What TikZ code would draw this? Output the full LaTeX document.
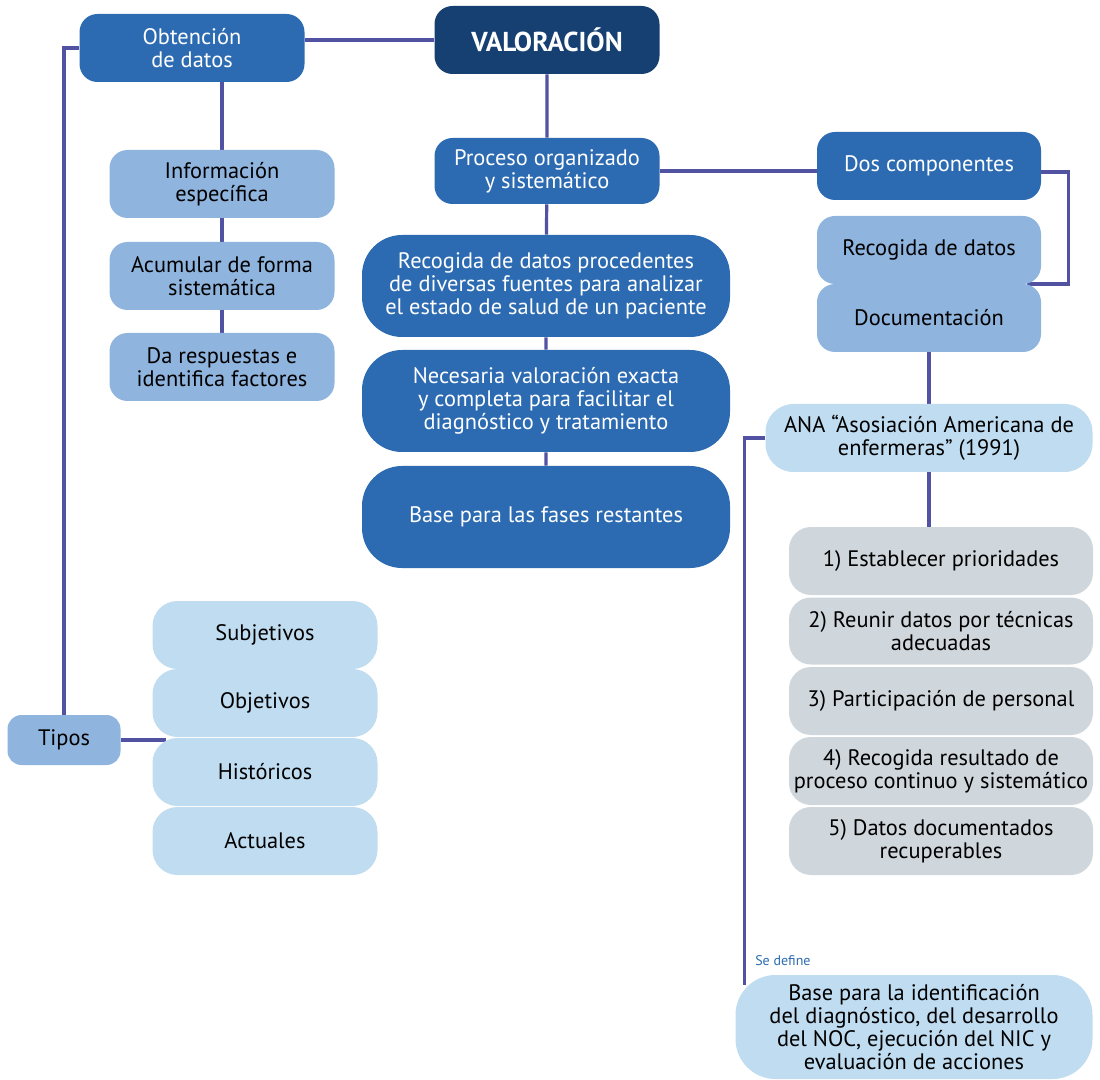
\documentclass[tikz,border=0pt]{standalone}
\usepackage{fontspec}
\setmainfont{PT Sans}
\usetikzlibrary{backgrounds}
\newlength{\du}
\setlength{\du}{0.75pt}
\definecolor{linecolor}{RGB}{82,82,163}
\definecolor{darkblue}{RGB}{22,63,114}
\definecolor{midblue}{RGB}{44,107,178}
\definecolor{lightblue}{RGB}{143,180,222}
\definecolor{paleblue}{RGB}{191,220,240}
\definecolor{greybox}{RGB}{208,215,220}
\tikzset{
  box/.style={rounded corners=18\du, align=center, inner sep=0pt,
    font=\fontsize{16.8}{17.25}\selectfont},
  darkbox/.style={box, fill=darkblue, text=white},
  midbox/.style={box, fill=midblue, text=white},
  lightbox/.style={box, fill=lightblue, text=black},
  palebox/.style={box, fill=paleblue, text=black},
  greybx/.style={box, fill=greybox, text=black, rounded corners=22\du},
  conn/.style={draw=linecolor, line width=3.2\du},
}

\begin{document}
\begin{tikzpicture}
\pgftransformyscale{-1.000000}
\useasboundingbox (0\du,0\du) rectangle (1100\du,1080\du);
% top row
\node[darkbox, minimum width=225\du, minimum height=68\du, font=\fontsize{20.5}{22}\selectfont\bfseries] (valoracion) at (547\du,40\du){VALORACIÓN};
\node[midbox, minimum width=225\du, minimum height=68\du] (obtencion) at (192\du,48\du){Obtención\\de datos};
% left column
\node[lightbox, minimum width=225\du, minimum height=68\du] (informacion) at (222\du,184\du){Información\\específica};
\node[lightbox, minimum width=225\du, minimum height=68\du] (acumular) at (222\du,276\du){Acumular de forma\\sistemática};
\node[lightbox, minimum width=225\du, minimum height=68\du] (respuestas) at (222\du,367\du){Da respuestas e\\identifica factores};
% tipos
\node[lightbox, rounded corners=14\du, minimum width=113\du, minimum height=50\du] (tipos) at (64\du,740\du){Tipos};
\node[palebox, rounded corners=25\du, minimum width=225\du, minimum height=68\du] (subjetivos) at (265\du,635\du){Subjetivos};
\node[palebox, rounded corners=25\du, minimum width=225\du, minimum height=68\du] (objetivos) at (265\du,703\du){Objetivos};
\node[palebox, rounded corners=25\du, minimum width=225\du, minimum height=68\du] (historicos) at (265\du,772\du){Históricos};
\node[palebox, rounded corners=25\du, minimum width=225\du, minimum height=68\du] (actuales) at (265\du,841\du){Actuales};
% center column
\node[midbox, minimum width=225\du, minimum height=66\du] (proceso) at (547\du,171\du){Proceso organizado\\y sistemático};
\node[midbox, rounded corners=40\du, minimum width=368\du, minimum height=102\du] (recogida) at (546\du,286\du){Recogida de datos procedentes\\de diversas fuentes para analizar\\el estado de salud de un paciente};
\node[midbox, rounded corners=40\du, minimum width=368\du, minimum height=102\du] (necesaria) at (546\du,401\du){Necesaria valoración exacta\\y completa para facilitar el\\diagnóstico y tratamiento};
\node[midbox, rounded corners=40\du, minimum width=368\du, minimum height=102\du] (fases) at (546\du,517\du){Base para las fases restantes};
% right column
\node[midbox, minimum width=224\du, minimum height=68\du] (dos) at (929\du,166\du){Dos componentes};
\node[lightbox, minimum width=224\du, minimum height=68\du] (recdatos) at (929\du,250\du){Recogida de datos};
\node[lightbox, minimum width=224\du, minimum height=68\du] (documentacion) at (929\du,318\du){Documentación};
\node[palebox, rounded corners=28\du, minimum width=327\du, minimum height=68\du] (ana) at (929\du,438\du){ANA “Asosiación Americana de\\enfermeras” (1991)};
\node[greybx, minimum width=304\du, minimum height=68\du] (p1) at (941\du,561\du){1) Establecer prioridades};
\node[greybx, minimum width=304\du, minimum height=67\du] (p2) at (941\du,631\du){2) Reunir datos por técnicas\\adecuadas};
\node[greybx, minimum width=304\du, minimum height=68\du] (p3) at (941\du,701\du){3) Participación de personal};
\node[greybx, minimum width=304\du, minimum height=68\du] (p4) at (941\du,771\du){4) Recogida resultado de\\proceso continuo y sistemático};
\node[greybx, minimum width=304\du, minimum height=68\du] (p5) at (941\du,841\du){5) Datos documentados\\recuperables};
\node[palebox, rounded corners=40\du, minimum width=357\du, minimum height=104\du] (identificacion) at (914\du,1027\du){Base para la identificación\\del diagnóstico, del desarrollo\\del NOC, ejecución del NIC y\\evaluación de acciones};
\node[anchor=west, text=midblue, inner sep=0pt, font=\fontsize{10.5}{12}\selectfont] (sedefine) at (755\du,961\du){Se define};
\coordinate (brk) at (1027\du,284\du);
% connectors
\begin{scope}[on background layer]
\draw[conn] (valoracion.west) -- (valoracion.west -| obtencion.east);
\draw[conn] (obtencion.west) -| (tipos.north);
\draw[conn] (informacion.north |- obtencion.south) -- (informacion) -- (acumular) -- (respuestas);
\draw[conn] (tipos.east) -- ([xshift=14\du]tipos.east -| historicos.west);
\draw[conn] (valoracion) -- (proceso) -- (recogida) -- (necesaria) -- (fases);
\draw[conn] (proceso.east) -- (proceso.east -| dos.west);
\draw[conn] ([yshift=6\du]dos.east) -- ++(27\du,0) |- (brk);
\draw[conn] (documentacion) -- (ana);
\draw[conn] (ana.south) -- (ana.south |- p1.north);
\draw[conn] (ana.west) -| ([xshift=9\du,yshift=10\du]identificacion.north west);
\end{scope}
\end{tikzpicture}
\end{document}
